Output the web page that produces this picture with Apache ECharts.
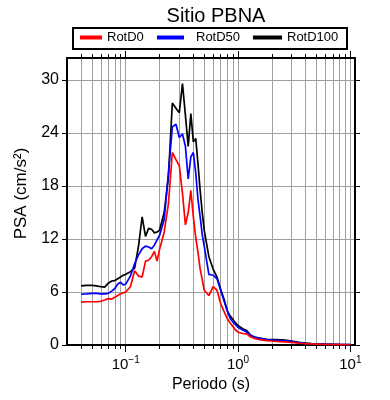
<!DOCTYPE html>
<html lang="es" style="height: 100%">
<head>
  <meta charset="UTF-8" />
  <title>Sitio PBNA</title>
  <script src="https://cdn.jsdelivr.net/npm/echarts@6.0.0/dist/echarts.min.js"></script>
  <style>
    html, body { height: 100%; margin: 0; background: #fff; }
    #chart { width: 390px; height: 400px; }
  </style>
</head>
<body>
  <div id="chart"></div>
  <script>
    // Periods (s) and spectral accelerations (cm/s2)
    const periods = [
      0.04, 0.045, 0.05, 0.055, 0.06, 0.065, 0.07, 0.075, 0.08, 0.085, 0.09, 0.095,
      0.1, 0.11, 0.12, 0.13, 0.14, 0.15, 0.16, 0.17, 0.18, 0.19, 0.2,
      0.22, 0.24, 0.26, 0.28, 0.3, 0.32, 0.34, 0.36, 0.38, 0.4, 0.42, 0.44, 0.46, 0.48, 0.5,
      0.55, 0.6, 0.65, 0.7, 0.75, 0.8, 0.85, 0.9, 0.95, 1.0,
      1.1, 1.2, 1.3, 1.4, 1.5, 1.6, 1.8, 2.0, 2.2, 2.4, 2.6, 2.8, 3.0,
      3.5, 4.0, 4.5, 5.0, 6.0, 7.0, 8.0, 9.0, 10.0
    ];
    const rotD0 = [
      4.85, 4.9, 4.9, 4.9, 4.95, 5.1, 5.25, 5.2, 5.4, 5.6, 5.8, 5.9,
      6.0, 6.6, 8.4, 7.8, 7.7, 9.5, 9.6, 10.0, 10.6, 9.5, 10.8,
      12.8, 16.0, 21.8, 21.0, 20.3, 17.2, 13.6, 15.0, 17.5, 14.5, 12.2, 10.5, 8.6, 7.4, 6.2,
      5.6, 6.6, 6.2, 4.7, 3.8, 3.0, 2.5, 2.1, 1.7, 1.45,
      1.3, 1.25, 0.9, 0.75, 0.65, 0.57, 0.5, 0.45, 0.42, 0.38, 0.35, 0.32, 0.3,
      0.2, 0.15, 0.12, 0.1, 0.07, 0.05, 0.04, 0.03, 0.03
    ];
    const rotD50 = [
      5.75, 5.8, 5.85, 5.85, 5.8, 5.8, 5.85, 6.1, 6.4, 6.9, 7.1, 6.8,
      6.9, 7.8, 9.2, 10.2, 10.9, 11.2, 11.1, 10.9, 11.3, 11.9, 12.4,
      14.2, 19.5, 24.7, 25.0, 23.5, 23.9, 22.5, 18.8, 21.3, 21.8, 19.5, 16.5, 14.5, 12.5, 11.2,
      8.0, 7.9, 7.5, 6.2, 5.0, 3.9, 3.0, 2.6, 2.3, 2.0,
      1.7, 1.45, 1.05, 0.9, 0.8, 0.72, 0.62, 0.55, 0.52, 0.5, 0.5, 0.45, 0.4,
      0.25, 0.18, 0.14, 0.11, 0.08, 0.06, 0.05, 0.04, 0.035
    ];
    const rotD100 = [
      6.7, 6.75, 6.75, 6.7, 6.6, 6.55, 7.0, 7.25, 7.3, 7.5, 7.7, 7.9,
      8.0, 8.3, 8.7, 11.2, 14.5, 12.3, 13.2, 13.1, 12.7, 12.8, 13.0,
      15.0, 19.0, 27.4, 26.8, 26.3, 29.6, 26.0, 22.5, 26.2, 23.0, 23.4, 20.5, 17.5, 15.0, 13.0,
      10.0, 8.6, 7.7, 6.3, 5.2, 3.9, 3.3, 2.9, 2.5, 2.2,
      1.85, 1.6, 1.1, 0.9, 0.8, 0.75, 0.65, 0.6, 0.6, 0.58, 0.55, 0.5, 0.45,
      0.3, 0.22, 0.17, 0.14, 0.1, 0.08, 0.06, 0.05, 0.04
    ];

    const seriesNames = ['RotD0', 'RotD50', 'RotD100'];
    const seriesColors = ['#ff0000', '#0000ff', '#000000'];

    // axis ticks
    const xMajor = [0.1, 1, 10];
    const xMinor = [
      0.04, 0.05, 0.06, 0.07, 0.08, 0.09, 0.1,
      0.2, 0.3, 0.4, 0.5, 0.6, 0.7, 0.8, 0.9, 1,
      2, 3, 4, 5, 6, 7, 8, 9, 10
    ];
    const yTicks = [0, 6, 12, 18, 24, 30];

    const font = 'Liberation Sans';
    const pair = arr => periods.map((p, i) => [p, arr[i]]);

    const chart = echarts.init(document.getElementById('chart'));

    const logAxis = (extra) => Object.assign({
      type: 'log',
      logBase: 10,
      min: 0.03,
      max: 11,
      axisLine: { show: false },
      axisTick: { show: false },
      axisLabel: { show: false },
      splitLine: { show: false }
    }, extra);

    const legendItem = (name, left, width, gap) => ({
      data: [name],
      left: left,
      top: 31,
      icon: 'rect',
      itemWidth: width,
      itemHeight: 4,
      padding: 0,
      textStyle: { fontFamily: font, fontSize: 13, color: '#000', padding: [0, 0, 0, gap] },
      selectedMode: false
    });

    const lineSeries = (idx, values) => ({
      name: seriesNames[idx],
      type: 'line',
      data: pair(values),
      xAxisIndex: 0,
      yAxisIndex: 0,
      showSymbol: false,
      lineStyle: { color: seriesColors[idx], width: 1.7 },
      itemStyle: { color: seriesColors[idx] }
    });

    chart.setOption({
      animation: false,
      backgroundColor: '#fff',
      title: {
        text: 'Sitio PBNA',
        left: 211,
        textAlign: 'center',
        top: 1,
        textStyle: { fontFamily: font, fontSize: 20, fontWeight: 'normal', color: '#000' }
      },
      graphic: [{
        type: 'rect',
        shape: { x: 73, y: 28, width: 274, height: 21 },
        style: { fill: 'none', stroke: '#000', lineWidth: 2 }
      }],
      legend: [
        legendItem('RotD0', 80, 22, 0),
        legendItem('RotD50', 157, 27, 7),
        legendItem('RotD100', 253, 29, 0)
      ],
      grid: { left: 67, right: 35, top: 58, bottom: 55 },
      xAxis: [
        logAxis({
          position: 'bottom',
          axisLine: { show: true, lineStyle: { color: '#000', width: 2 } },
          axisTick: { show: true, customValues: xMinor, length: 4, lineStyle: { color: '#000' } },
          splitLine: { show: true, lineStyle: { color: '#a0a0a0', width: 1 } }
        }),
        logAxis({
          position: 'bottom',
          axisTick: { show: true, customValues: xMajor, length: 7, lineStyle: { color: '#000' } },
          axisLabel: {
            show: true,
            customValues: xMajor,
            margin: 10,
            formatter: v => {
              const e = Math.round(Math.log10(v));
              return '{b|10}{s|' + (e < 0 ? '\u2212' + (-e) : e) + '}';
            },
            rich: {
              b: { fontFamily: font, fontSize: 15, color: '#000' },
              s: { fontFamily: font, fontSize: 10, color: '#000', padding: [0, 0, 9, 0] }
            }
          },
          name: 'Periodo (s)',
          nameLocation: 'middle',
          nameGap: 31,
          nameTextStyle: { fontFamily: font, fontSize: 16, color: '#000' }
        }),
        logAxis({
          position: 'top',
          axisLine: { show: true, lineStyle: { color: '#000', width: 2 } },
          axisTick: { show: true, customValues: xMinor, length: 4, lineStyle: { color: '#000' } }
        }),
        logAxis({
          position: 'top',
          axisTick: { show: true, customValues: xMajor, length: 7, lineStyle: { color: '#000' } }
        })
      ],
      yAxis: [
        {
          type: 'value',
          position: 'left',
          min: 0,
          max: 32.5,
          axisLine: { show: true, lineStyle: { color: '#000', width: 2 } },
          axisTick: { show: true, customValues: yTicks, length: 5, lineStyle: { color: '#000' } },
          axisLabel: {
            customValues: yTicks,
            margin: 8,
            fontFamily: font,
            fontSize: 16,
            color: '#000'
          },
          splitLine: { show: true, lineStyle: { color: '#a0a0a0', width: 1 } },
          name: 'PSA (cm/s\u00b2)',
          nameLocation: 'middle',
          nameGap: 31,
          nameTextStyle: { fontFamily: font, fontSize: 17, color: '#000', padding: [0, 0, 0, 16] }
        },
        {
          type: 'value',
          position: 'right',
          min: 0,
          max: 32.5,
          axisLine: { show: true, lineStyle: { color: '#000', width: 2 } },
          axisTick: { show: true, customValues: yTicks, length: 5, lineStyle: { color: '#000' } },
          axisLabel: { show: false },
          splitLine: { show: false }
        }
      ],
      series: [
        lineSeries(2, rotD100),
        lineSeries(1, rotD50),
        lineSeries(0, rotD0)
      ]
    });
  </script>
</body>
</html>
